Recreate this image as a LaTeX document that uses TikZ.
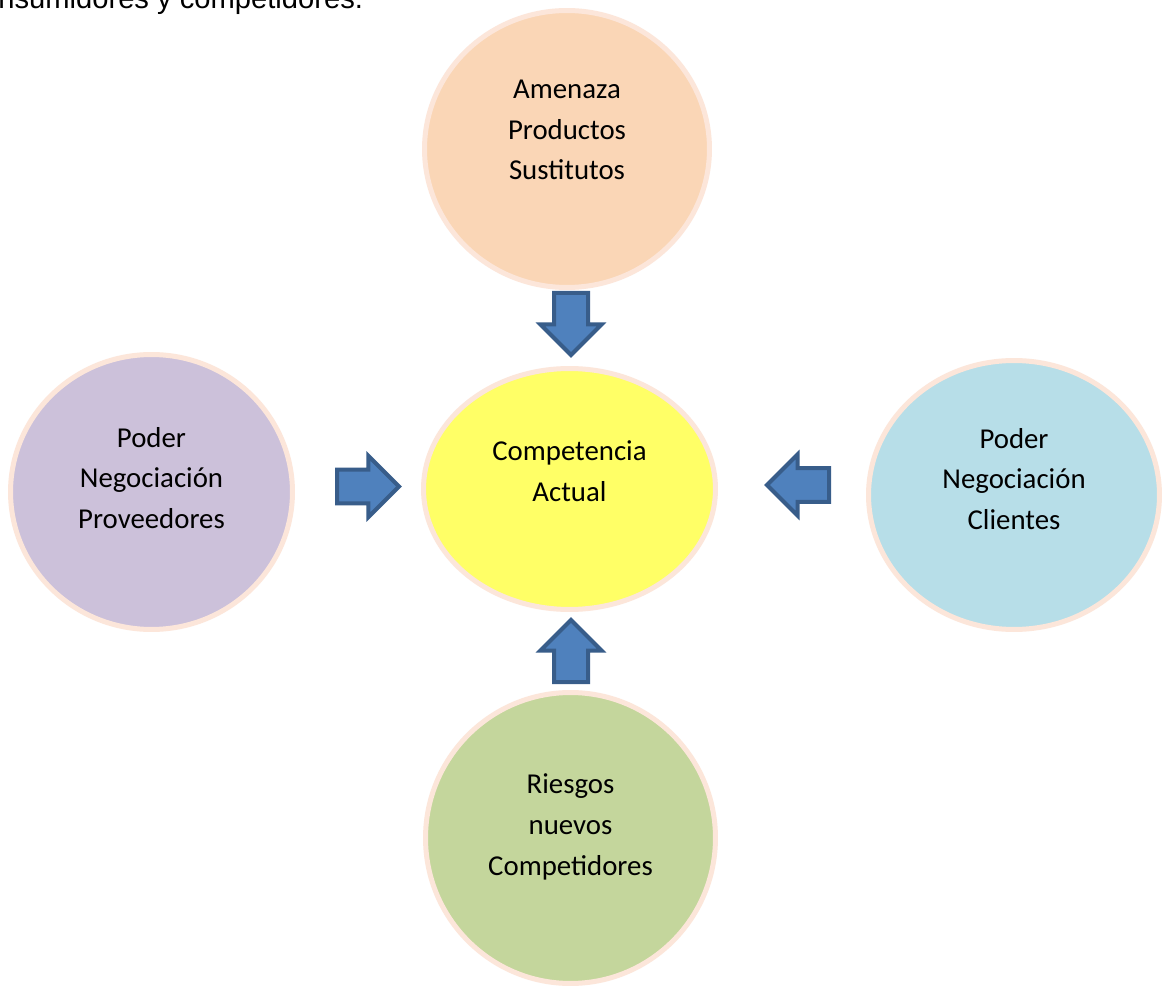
\documentclass[tikz,border=0pt]{standalone}
\usepackage{fontspec}
\setmainfont{Carlito}
\newfontfamily\bodyfont{Liberation Sans}
\usetikzlibrary{shapes.geometric,shapes.arrows}

\definecolor{rim}{HTML}{FCE6DA}
\definecolor{threat}{HTML}{FAD6B6}
\definecolor{supplier}{HTML}{CCC1DA}
\definecolor{rivalry}{HTML}{FFFF66}
\definecolor{client}{HTML}{B7DEE8}
\definecolor{entrant}{HTML}{C4D69C}
\definecolor{arrowfill}{HTML}{4F81BD}
\definecolor{arrowline}{HTML}{385D8A}

\begin{document}
\begin{tikzpicture}%
  [x=0.02cm,y=-0.02cm,
   force/.style=
    {ellipse,draw=rim,line width=0.1cm,inner sep=0pt},
   caption/.style=
    {align=center,font=\fontsize{16.4}{23.2}\selectfont},
   push/.style=
    {single arrow,draw=arrowline,fill=arrowfill,line width=0.08cm,
     inner xsep=0pt,inner ysep=0.3cm,minimum height=1.24cm,
     single arrow head extend=0.27cm,anchor=tail}
  ]
  \useasboundingbox (0,0) rectangle (1163,989);
  \clip (0,0) rectangle (1163,989);
  \fill[white] (0,0) rectangle (1163,989);

  % end of the paragraph above
  \node[anchor=base west,inner sep=0pt,
        font=\bodyfont\fontsize{16.6}{20}\selectfont] (intro) at (-2,9)
    {nsumidores y competidores.};

  % the five forces
  \node[force,fill=threat,minimum width=5.70cm,minimum height=5.54cm]
    (sub) at (567,149) {};
  \node[force,fill=supplier,minimum width=5.64cm,minimum height=5.50cm]
    (prov) at (151.5,492) {};
  \node[force,fill=rivalry,minimum width=5.84cm,minimum height=4.82cm]
    (comp) at (569.5,489) {};
  \node[force,fill=client,minimum width=5.82cm,minimum height=5.38cm]
    (cli) at (1014,495) {};
  \node[force,fill=entrant,minimum width=5.80cm,minimum height=5.82cm]
    (new) at (570.5,838) {};

  \node[caption] (subtxt) at (567,130) {Amenaza\\Productos\\Sustitutos};
  \node[caption] (provtxt) at (151.5,478) {Poder\\Negociación\\Proveedores};
  \node[caption] (comptxt) at (569.5,471) {Competencia\\Actual};
  \node[caption] (clitxt) at (1014,479) {Poder\\Negociación\\Clientes};
  \node[caption] (newtxt) at (570.5,827) {Riesgos\\nuevos\\Competidores};

  % block arrows pointing at the centre
  \node[push,rotate=-90] (a1) at (571,291) {};
  \node[push] (a2) at (335,486.5) {};
  \node[push,rotate=180] (a3) at (831,485) {};
  \node[push,rotate=90] (a4) at (571,684) {};
\end{tikzpicture}
\end{document}
